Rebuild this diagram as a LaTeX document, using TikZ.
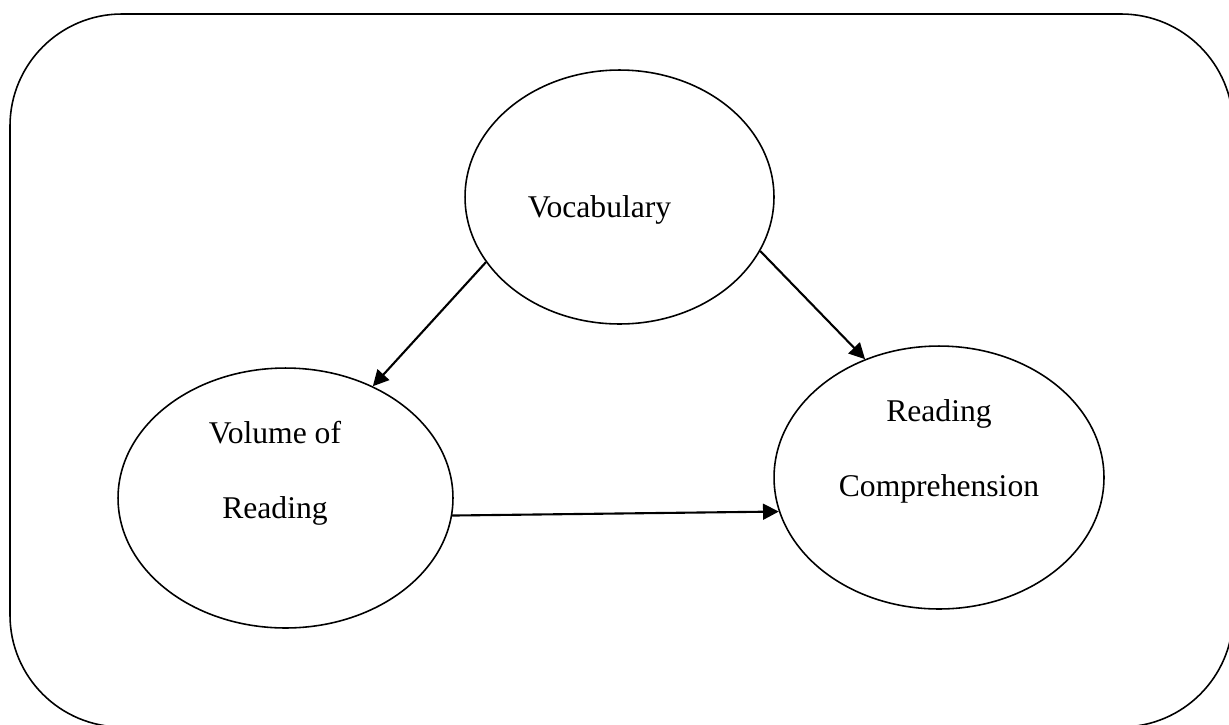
\documentclass[tikz,border=0pt]{standalone}
\usepackage{fontspec}
\setmainfont{Liberation Serif}
\usetikzlibrary{arrows.meta,shapes.geometric}
\begin{document}
\begin{tikzpicture}[x=0.02cm,y=-0.02cm,
    bubble/.style={draw,ellipse,line width=0.9pt,inner sep=0pt},
    every label/.style={font=\fontsize{18}{42.7}\selectfont,align=center},
    link/.style={line width=1.2pt,-{Triangle[length=9pt,width=9pt]}}]
      \useasboundingbox (0,0) rectangle (1229,724);
      \draw[line width=0.9pt,rounded corners=2.24cm] (10,14) rectangle (1233,727);
      \draw
        (619.5,197) node[bubble,minimum width=6.18cm,minimum height=5.08cm,
          label={[xshift=-0.4cm,yshift=-0.25cm]center:Vocabulary}] (vocab){}
        (285.5,498) node[bubble,minimum width=6.7cm,minimum height=5.2cm,
          label={[xshift=-0.21cm,yshift=0.5cm]center:Volume of\\Reading}] (volume){}
        (939,477.5) node[bubble,minimum width=6.6cm,minimum height=5.26cm,
          label={[yshift=0.53cm]center:Reading\\Comprehension}] (comp){};
      \begin{scope}[link]
        \draw (vocab.206) to (volume.52);
        \draw (vocab.339) to (comp.122);
        \draw (volume.354) to (comp.192);
      \end{scope}
    \end{tikzpicture}
\end{document}
